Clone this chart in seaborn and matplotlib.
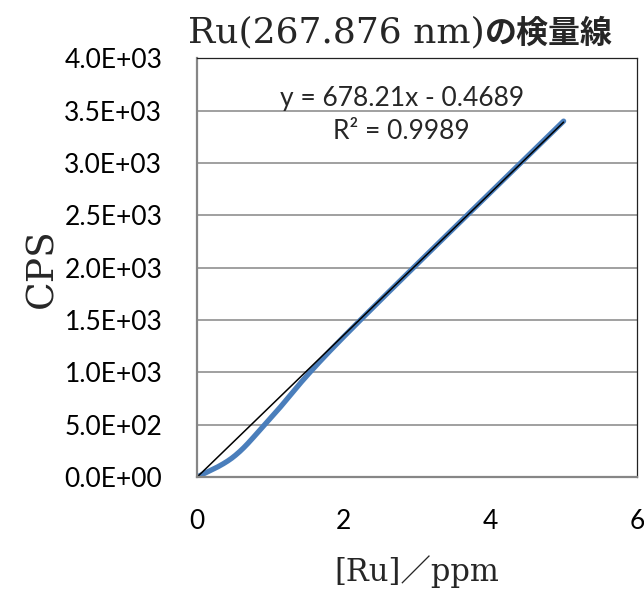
import numpy as np
import pandas as pd
import matplotlib
matplotlib.use("Agg")
import matplotlib.pyplot as plt
import seaborn as sns
from matplotlib.ticker import FuncFormatter

# calibration standards
conc = [0, 0.5, 1, 2, 5]
cps = [0, 195, 560, 1340, 3400]

# Excel linear trendline shown on the chart
slope = 678.21
intercept = -0.4689
r_squared = 0.9989

x_ticks = [0, 2, 4, 6]
y_ticks = [0, 500, 1000, 1500, 2000, 2500, 3000, 3500, 4000]


def smooth(xs, ys, n=40):
    # Excel "smoothed line": Catmull-Rom curve through the points
    pts = np.column_stack([xs, ys]).astype(float)
    pts = np.vstack([pts[0], pts, pts[-1]])
    t = np.linspace(0, 1, n)[:, None]
    out = []
    for i in range(1, len(pts) - 2):
        p0, p1, p2, p3 = pts[i - 1:i + 3]
        seg = 0.5 * (2 * p1 + (p2 - p0) * t
                     + (2 * p0 - 5 * p1 + 4 * p2 - p3) * t ** 2
                     + (3 * p1 - p0 - 3 * p2 + p3) * t ** 3)
        out.append(seg if i == 1 else seg[1:])
    return np.vstack(out)


sns.set_style("white")
serif = ["DejaVu Serif", "Noto Sans CJK JP"]
tick_font = "Lato"

fig = plt.figure(figsize=(6.44, 5.89), dpi=100)
ax = fig.add_axes([0.306, 0.190, 0.683, 0.711])

curve = smooth(conc, cps)
sns.lineplot(x=curve[:, 0], y=curve[:, 1], sort=False, ax=ax,
             color="#4A7EBB", linewidth=3.8, solid_capstyle="round")

trend_x = np.array([min(conc), max(conc)])
trend = pd.DataFrame({"x": trend_x, "y": slope * trend_x + intercept})
sns.lineplot(data=trend, x="x", y="y", ax=ax, color="black", linewidth=1.1)

ax.set_xlim(0, 6)
ax.set_ylim(0, 4000)
ax.set_xticks(x_ticks)
ax.set_yticks(y_ticks)
ax.yaxis.set_major_formatter(FuncFormatter(lambda v, p: f"{v:.1E}"))
ax.xaxis.set_major_formatter(FuncFormatter(lambda v, p: f"{v:g}"))
ax.grid(axis="y", color="#868686", linewidth=1.1)
ax.set_axisbelow(True)

for side in ["left", "bottom"]:
    ax.spines[side].set_color("#868686")
    ax.spines[side].set_linewidth(1.6)
for side in ["top", "right"]:
    ax.spines[side].set_color("#222222")
    ax.spines[side].set_linewidth(0.9)

ax.tick_params(axis="both", direction="in", length=5, width=1.2,
               color="#868686", labelsize=19, labelcolor="black")
ax.tick_params(axis="x", pad=23)
ax.tick_params(axis="y", pad=25)
for lab in ax.get_xticklabels() + ax.get_yticklabels():
    lab.set_family(tick_font)

ax.set_xlabel("[Ru]／ppm", family=serif, fontsize=22, labelpad=15)
ax.set_ylabel("CPS", family=serif, fontsize=27, labelpad=3)

eq = f"y = {slope}x - {abs(intercept)}\nR² = {r_squared}"
ax.text(0.465, 0.935, eq, transform=ax.transAxes, ha="center", va="top",
        family=tick_font, fontsize=19, linespacing=1.4)

# title: serif Latin part followed by bold Japanese part
t1 = fig.text(0.292, 0.928, "Ru(267.876 nm)", family=serif, fontsize=26,
              ha="left", va="baseline")
ax.annotate("の検量線", xy=(1, 0), xycoords=t1, ha="left", va="bottom",
            family="Noto Sans CJK JP", fontweight="bold", fontsize=23)

fig.savefig("out.png", dpi=100)
